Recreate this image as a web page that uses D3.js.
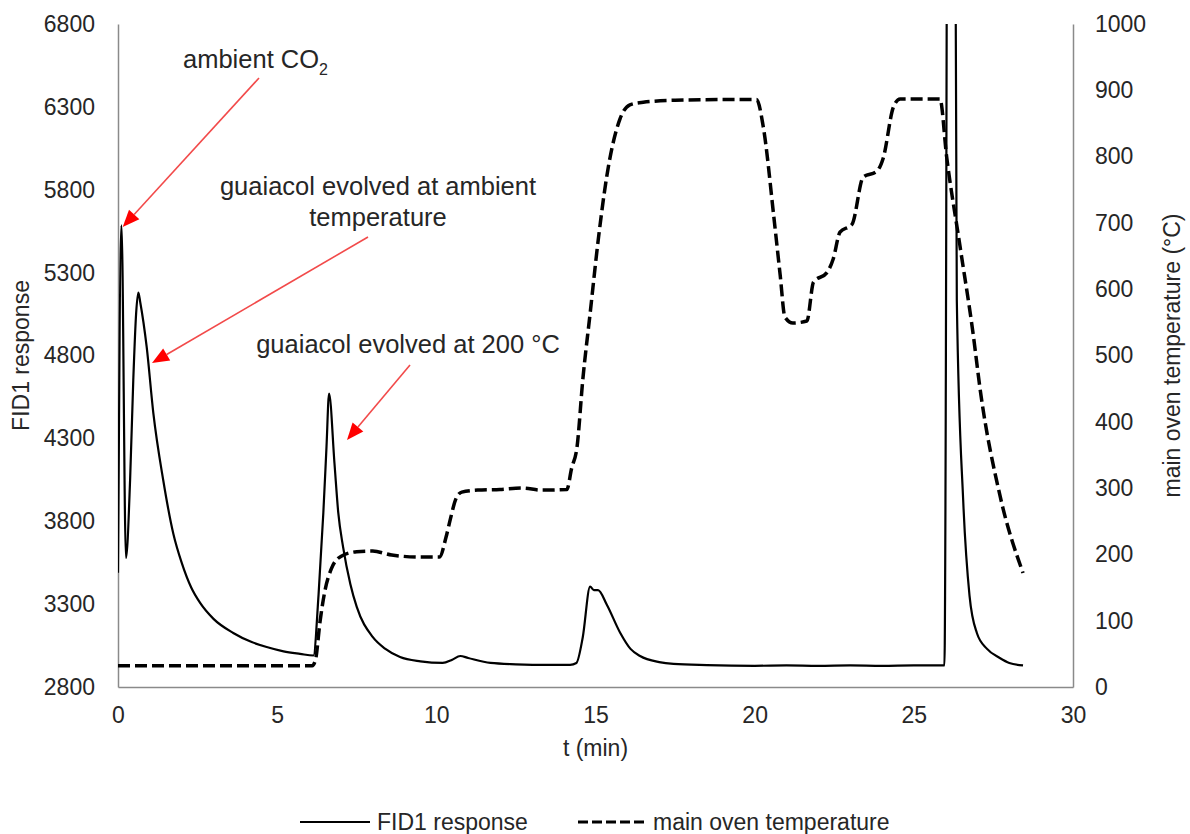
<!DOCTYPE html>
<html>
<head>
<meta charset="utf-8">
<script src="https://cdn.jsdelivr.net/npm/d3@7/dist/d3.min.js"></script>
<style>
  html, body { margin: 0; padding: 0; background: #fff; }
  svg { display: block; font-family: Arial, "Liberation Sans", sans-serif; }
</style>
</head>
<body>
<svg id="chart" width="1190" height="834"></svg>
<script>
// FID1 detector response over time: [t (min), response]
const fidTime = [0, 0.11, 0.25, 0.38, 0.48, 0.57, 0.64, 0.7, 0.9, 1.11, 1.42, 1.74, 2.0, 2.3, 2.58, 3.0, 3.62, 4.2, 4.67, 5.2, 5.72, 6.14,
  6.3, 6.45, 6.55, 6.63, 6.8, 6.92, 7.07, 7.3, 7.5, 8.0, 8.4, 8.86, 9.5, 10.2, 10.5, 10.75, 11.0, 11.7, 12.5, 13.5, 14.2,
  14.4, 14.6, 14.83, 14.95, 15.08, 15.36, 15.77, 16.1, 16.4, 17.0, 17.45, 18.5, 20.0, 21.0, 22.0, 23.0, 24.0, 25.0, 25.96,
  26.15, 26.35, 26.55, 26.75, 26.98, 27.3, 27.7, 28.0, 28.43];
const fidValue = [3490, 5585, 3578, 4049, 4652, 5056, 5180, 5120, 4853, 4453, 4049, 3723, 3550, 3400, 3307, 3211, 3126, 3071, 3041, 3015, 3000, 2990,
  3356, 3850, 4250, 4570, 4150, 3850, 3645, 3420, 3283, 3102, 3030, 2981, 2955, 2945, 2965, 2987, 2975, 2945, 2937, 2933, 2933,
  2945, 3100, 3405, 3385, 3385, 3295, 3129, 3030, 2987, 2950, 2939, 2932, 2928, 2930, 2928, 2930, 2928, 2930, 2930,
  15000, 5135, 3928, 3350, 3126, 3030, 2975, 2945, 2930];

// Main oven temperature over time: [t (min), °C]
const ovenTime = [0, 6.1, 6.2, 6.35, 6.5, 6.7, 7.0, 7.5, 8.0, 8.6, 9.5, 10.1, 10.3, 10.45, 10.6, 10.8, 11.3, 12.0, 12.7, 13.3, 14.1,
  14.25, 14.42, 14.6, 14.83, 15.1, 15.35, 15.77, 16.08, 16.5, 17.5, 19.0, 20.06, 20.27, 20.6, 20.8, 20.95, 21.2, 21.64,
  21.85, 22.27, 22.47, 22.68, 23.06, 23.41, 23.84, 24.04, 24.36, 24.57, 25.82, 26.03, 26.45, 26.87, 27.08, 27.7, 28.43];
const ovenTemp = [32, 32, 40, 100, 145, 178, 197, 204, 205, 199, 196, 196, 225, 255, 282, 294, 297, 298, 300, 297, 298,
  330, 362, 463, 563, 680, 769, 857, 878, 882, 885, 886, 886, 845, 710, 622, 558, 549, 552,
  611, 625, 646, 686, 698, 769, 778, 798, 875, 887, 887, 800, 665, 530, 450, 290, 172];

// Axis ticks
const xTicks = [0, 5, 10, 15, 20, 25, 30];
const fidTicks = [2800, 3300, 3800, 4300, 4800, 5300, 5800, 6300, 6800];
const tempTicks = [0, 100, 200, 300, 400, 500, 600, 700, 800, 900, 1000];

// Callout labels with arrows pointing at the peaks
const notes = [
  { lines: ["ambient CO"], sub: "2", x: 183, y: 68, anchor: "start", from: [259, 78], to: [122.7, 227] },
  { lines: ["guaiacol evolved at ambient", "temperature"], x: 378, y: 195, anchor: "middle", from: [368, 237], to: [152, 363] },
  { lines: ["guaiacol evolved at 200 °C"], x: 408, y: 353, anchor: "middle", from: [410, 365], to: [347, 440] }
];

const fid = fidTime.map((t, i) => ({ t, v: fidValue[i] }));
const oven = ovenTime.map((t, i) => ({ t, v: ovenTemp[i] }));

const svg = d3.select("#chart");
const plotLeft = 118, plotRight = 1073, plotTop = 24, plotBottom = 687;
const textColor = "#262626";
const axisColor = "#8a8a8a";

const x = d3.scaleLinear().domain([0, 30]).range([plotLeft, plotRight]);
const yL = d3.scaleLinear().domain([2800, 6800]).range([plotBottom, plotTop]);
const yR = d3.scaleLinear().domain([0, 1000]).range([plotBottom, plotTop]);

svg.append("defs").append("clipPath").attr("id", "plot")
  .append("rect").attr("x", plotLeft).attr("y", plotTop)
  .attr("width", plotRight - plotLeft).attr("height", plotBottom - plotTop);

function styleAxis(g) {
  g.select(".domain").attr("stroke", axisColor).attr("stroke-width", 1.5);
  g.selectAll(".tick line").remove();
  g.selectAll("text").attr("fill", textColor).style("font-size", "23px")
    .style("font-family", "Arial, 'Liberation Sans', sans-serif");
}

svg.append("g").attr("transform", `translate(0,${plotBottom})`)
  .call(d3.axisBottom(x).tickValues(xTicks).tickSize(0).tickPadding(20).tickFormat(d3.format("d")))
  .call(styleAxis);

svg.append("g").attr("transform", `translate(${plotLeft},0)`)
  .call(d3.axisLeft(yL).tickValues(fidTicks).tickSize(0).tickPadding(23).tickFormat(d3.format("d")))
  .call(styleAxis);

svg.append("g").attr("transform", `translate(${plotRight},0)`)
  .call(d3.axisRight(yR).tickValues(tempTicks).tickSize(0).tickPadding(22).tickFormat(d3.format("d")))
  .call(styleAxis);

// Axis titles
svg.append("text").attr("x", x(15)).attr("y", 756).attr("text-anchor", "middle")
  .attr("fill", textColor).style("font-size", "23px").text("t (min)");
svg.append("text").attr("transform", `translate(29,${(plotTop + plotBottom) / 2}) rotate(-90)`)
  .attr("text-anchor", "middle").attr("fill", textColor).style("font-size", "23px").text("FID1 response");
svg.append("text").attr("transform", `translate(1180,${(plotTop + plotBottom) / 2}) rotate(-90)`)
  .attr("text-anchor", "middle").attr("fill", textColor).style("font-size", "23px").text("main oven temperature (°C)");

// Series
const plot = svg.append("g").attr("clip-path", "url(#plot)");
plot.append("path").datum(oven)
  .attr("fill", "none").attr("stroke", "#000").attr("stroke-width", 3.5)
  .attr("stroke-dasharray", "12,5")
  .attr("d", d3.line().x(d => x(d.t)).y(d => yR(d.v)).curve(d3.curveMonotoneX));
plot.append("path").datum(fid)
  .attr("fill", "none").attr("stroke", "#000").attr("stroke-width", 2.2).attr("stroke-linejoin", "round")
  .attr("d", d3.line().x(d => x(d.t)).y(d => yL(d.v)).curve(d3.curveMonotoneX));

// Callouts
const noteG = svg.append("g");
notes.forEach(n => {
  const tx = noteG.append("text").attr("x", n.x).attr("y", n.y).attr("text-anchor", n.anchor)
    .attr("fill", textColor).style("font-size", "25.5px");
  n.lines.forEach((l, i) => {
    tx.append("tspan").attr("x", n.x).attr("dy", i === 0 ? 0 : 31).text(l);
  });
  if (n.sub) {
    tx.append("tspan").attr("dy", 7).style("font-size", "16px").text(n.sub);
  }
  const [x0, y0] = n.from, [x1, y1] = n.to;
  const ang = Math.atan2(y1 - y0, x1 - x0);
  const headLen = 17, headW = 7;
  const bx = x1 - headLen * Math.cos(ang), by = y1 - headLen * Math.sin(ang);
  noteG.append("line").attr("x1", x0).attr("y1", y0).attr("x2", bx).attr("y2", by)
    .attr("stroke", "#f24a4a").attr("stroke-width", 1.6);
  const px = -Math.sin(ang) * headW, py = Math.cos(ang) * headW;
  noteG.append("path")
    .attr("d", `M${x1},${y1}L${bx + px},${by + py}L${bx - px},${by - py}Z`)
    .attr("fill", "#ff0000");
});

// Legend
const lg = svg.append("g");
lg.append("line").attr("x1", 300).attr("x2", 370).attr("y1", 822).attr("y2", 822)
  .attr("stroke", "#000").attr("stroke-width", 2);
lg.append("text").attr("x", 377).attr("y", 830).attr("fill", textColor).style("font-size", "23px").text("FID1 response");
lg.append("line").attr("x1", 578).attr("x2", 648).attr("y1", 822).attr("y2", 822)
  .attr("stroke", "#000").attr("stroke-width", 3.2).attr("stroke-dasharray", "10,4");
lg.append("text").attr("x", 653).attr("y", 830).attr("fill", textColor).style("font-size", "23px").text("main oven temperature");
</script>
</body>
</html>
